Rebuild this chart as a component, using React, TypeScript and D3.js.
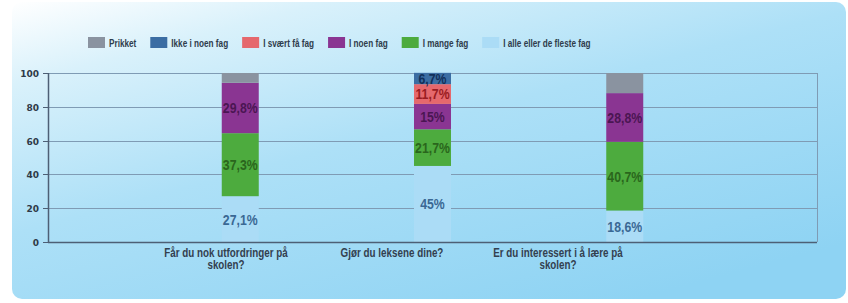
import React, { useEffect, useRef } from 'react';
import * as d3 from 'd3';

const questions = [
  'Får du nok utfordringer på skolen?',
  'Gjør du leksene dine?',
  'Er du interessert i å lære på skolen?',
];
const questionLines = [
  ['Får du nok utfordringer på', 'skolen?'],
  ['Gjør du leksene dine?'],
  ['Er du interessert i å lære på', 'skolen?'],
];

// legend order (left to right)
const categories = ['Prikket', 'Ikke i noen fag', 'I svært få fag', 'I noen fag', 'I mange fag', 'I alle eller de fleste fag'];
const categoryColors = ['#8a93a0', '#3b6da3', '#e5686d', '#8a3592', '#4dab3e', '#abdcf6'];
const labelColors = ['#4a4f58', '#12305a', '#9a1c22', '#4a1652', '#2a661c', '#3a6894'];

// values per question, in percent
const prikket = [5.8, 0, 11.9];
const ikkeINoenFag = [0, 6.7, 0];
const iSvaertFaFag = [0, 11.7, 0];
const iNoenFag = [29.8, 15, 28.8];
const iMangeFag = [37.3, 21.7, 40.7];
const iAlleEllerDeFlesteFag = [27.1, 45, 18.6];

const yTicks = [0, 20, 40, 60, 80, 100];

const narrow = 0.82; // squeeze text horizontally, the original font is condensed

const App = () => {
  const ref = useRef<SVGSVGElement>(null);

  useEffect(() => {
    const width = 848;
    const height = 303;
    const left = 48;
    const right = 817;
    const top = 73;
    const bottom = 242;
    const barWidth = 37;

    const series = [prikket, ikkeINoenFag, iSvaertFaFag, iNoenFag, iMangeFag, iAlleEllerDeFlesteFag];
    const rows = questions.map((q, i) => {
      const row: any = { question: q };
      categories.forEach((c, j) => { row[c] = series[j][i]; });
      return row;
    });

    // bottom of the stack is the last legend entry
    const stackKeys = categories.slice().reverse();
    const stacked = d3.stack().keys(stackKeys)(rows);

    const x = d3.scalePoint().domain(questions).range([left, right]).padding(1);
    const labelX = d3.scalePoint().domain(questions).range([226, 558]);
    const y = d3.scaleLinear().domain([0, 100]).range([bottom, top]);
    const color = d3.scaleOrdinal<string>().domain(categories).range(categoryColors);
    const textColor = d3.scaleOrdinal<string>().domain(categories).range(labelColors);

    const svg = d3.select(ref.current);
    svg.selectAll('*').remove();

    const defs = svg.append('defs');
    const grad = defs.append('linearGradient')
      .attr('id', 'bg')
      .attr('x1', 0).attr('y1', 0)
      .attr('x2', 0.75).attr('y2', 1);
    grad.append('stop').attr('offset', 0).attr('stop-color', '#ffffff');
    grad.append('stop').attr('offset', 0.18).attr('stop-color', '#d9f1fb');
    grad.append('stop').attr('offset', 0.5).attr('stop-color', '#ade0f7');
    grad.append('stop').attr('offset', 1).attr('stop-color', '#8ed3f3');

    svg.append('rect')
      .attr('width', width)
      .attr('height', height)
      .attr('fill', '#ffffff');

    svg.append('rect')
      .attr('x', 12)
      .attr('y', 2)
      .attr('width', 834)
      .attr('height', 297)
      .attr('rx', 10)
      .attr('fill', 'url(#bg)');

    // grid
    svg.append('g')
      .selectAll('line')
      .data(yTicks.filter((t) => t > 0))
      .join('line')
      .attr('x1', left)
      .attr('x2', right)
      .attr('y1', (d) => Math.round(y(d)) + 0.5)
      .attr('y2', (d) => Math.round(y(d)) + 0.5)
      .attr('stroke', '#7f9bb4')
      .attr('stroke-width', 1);

    svg.append('line')
      .attr('x1', right + 0.5)
      .attr('x2', right + 0.5)
      .attr('y1', y(100))
      .attr('y2', y(0))
      .attr('stroke', '#7f9bb4');

    // bars
    svg.append('g')
      .selectAll('g')
      .data(stacked)
      .join('g')
      .attr('fill', (d) => color(d.key))
      .selectAll('rect')
      .data((d) => d.map((v) => ({ key: d.key, v })))
      .join('rect')
      .attr('x', (d) => (x(d.v.data.question) as number) - barWidth / 2)
      .attr('width', barWidth)
      .attr('y', (d) => y(d.v[1]))
      .attr('height', (d) => y(d.v[0]) - y(d.v[1]));

    // segment labels
    svg.append('g')
      .selectAll('g')
      .data(stacked.flatMap((s) => s.map((v) => ({ key: s.key, v }))).filter((d) => d.key !== 'Prikket' && d.v[1] - d.v[0] > 0))
      .join('g')
      .attr('transform', (d) => `translate(${x(d.v.data.question)},${y((d.v[0] + d.v[1]) / 2)}) scale(${narrow},1)`)
      .append('text')
      .attr('text-anchor', 'middle')
      .attr('dy', '0.36em')
      .style('font', 'bold 15px "Liberation Sans", sans-serif')
      .attr('fill', (d) => textColor(d.key))
      .text((d) => `${String(+d.v.data[d.key]).replace('.', ',')}%`);

    // axes
    svg.append('line')
      .attr('x1', left)
      .attr('x2', right)
      .attr('y1', bottom + 0.5)
      .attr('y2', bottom + 0.5)
      .attr('stroke', '#4d5f75')
      .attr('stroke-width', 1.5);

    svg.append('line')
      .attr('x1', left + 0.5)
      .attr('x2', left + 0.5)
      .attr('y1', top)
      .attr('y2', bottom)
      .attr('stroke', '#4d5f75')
      .attr('stroke-width', 1.5);

    const ticks = svg.append('g')
      .selectAll('g')
      .data(yTicks)
      .join('g')
      .attr('transform', (d) => `translate(${left},${Math.round(y(d)) + 0.5})`);
    ticks.append('line').attr('x1', -5).attr('x2', 0).attr('stroke', '#4d5f75');
    ticks.append('text')
      .attr('x', -9)
      .attr('dy', '0.35em')
      .attr('text-anchor', 'end')
      .attr('fill', '#2f3a48')
      .style('font', 'bold 9px "DejaVu Sans", sans-serif')
      .text((d) => d);

    // category labels
    svg.append('g')
      .selectAll('g')
      .data(questions)
      .join('g')
      .attr('transform', (d) => `translate(${labelX(d)},257) scale(${narrow},1)`)
      .append('text')
      .attr('text-anchor', 'middle')
      .attr('fill', '#33404f')
      .style('font', 'bold 12px "Liberation Sans", sans-serif')
      .selectAll('tspan')
      .data((d, i) => questionLines[i])
      .join('tspan')
      .attr('x', 0)
      .attr('y', (d, i) => i * 12.5)
      .text((d) => d);

    // legend
    const legend = svg.append('g').attr('transform', 'translate(88,37)');
    let offset = 0;
    categories.forEach((c) => {
      const item = legend.append('g').attr('transform', `translate(${offset},0)`);
      item.append('rect')
        .attr('width', 17)
        .attr('height', 11)
        .attr('fill', color(c));
      const t = item.append('g')
        .attr('transform', `translate(21,6) scale(${narrow},1)`)
        .append('text')
        .attr('dy', '0.35em')
        .attr('fill', '#2f3c4c')
        .style('font', 'bold 10px "Liberation Sans", sans-serif')
        .text(c);
      const w = (t.node() as SVGTextElement).getComputedTextLength() * narrow;
      offset += 21 + w + 14;
    });
  }, []);

  return (
    <svg
      ref={ref}
      width={848}
      height={303}
      style={{ position: 'absolute', left: 0, top: 0, display: 'block' }}
    />
  );
};

export default App;
